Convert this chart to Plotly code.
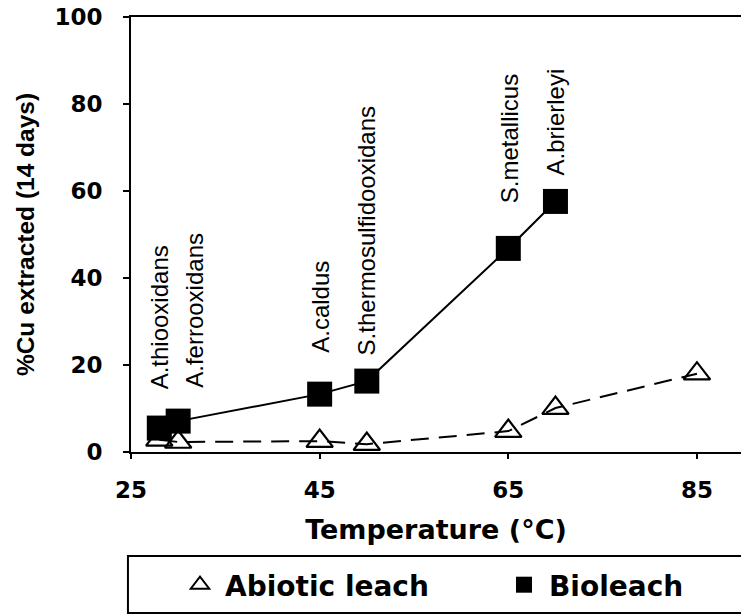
import plotly.graph_objects as go

# ---- data ----
temp_bio = [28, 30, 45, 50, 65, 70]
cu_bio = [5.5, 7.1, 13.3, 16.3, 46.8, 57.6]
species = ["A.thiooxidans", "A.ferrooxidans", "A.caldus",
           "S.thermosulfidooxidans", "S.metallicus", "A.brierleyi"]

temp_abiotic = [28, 30, 45, 50, 65, 70, 85]
cu_abiotic = [2.8, 2.3, 2.5, 1.8, 4.8, 10.1, 18.0]

x_ticks = [25, 45, 65, 85]
y_ticks = [0, 20, 40, 60, 80, 100]

# label offsets (px) relative to their data point
label_dx = [0, 16, 0, 0, 2, 0]
label_dy = [37, 31, 39, 24, 43, 24]

HFONT = "DejaVu Sans"
VFONT = "Liberation Sans"

fig = go.Figure()

fig.add_trace(go.Scatter(
    x=temp_abiotic, y=cu_abiotic, mode="lines+markers",
    line=dict(color="black", width=2, dash="18px,10px"),
    marker=dict(symbol="triangle-up-open", size=23, color="black",
                line=dict(color="black", width=2.2)),
    showlegend=False))

fig.add_trace(go.Scatter(
    x=temp_bio, y=cu_bio, mode="lines+markers",
    line=dict(color="black", width=2),
    marker=dict(symbol="square", size=25, color="black"),
    showlegend=False))

# legend-only entries (markers only), one legend each
fig.add_trace(go.Scatter(
    x=[None], y=[None], mode="markers", name="Abiotic leach", legend="legend",
    marker=dict(symbol="triangle-up-open", size=20, color="black",
                line=dict(color="black", width=2))))
fig.add_trace(go.Scatter(
    x=[None], y=[None], mode="markers", name="Bioleach", legend="legend2",
    marker=dict(symbol="square", size=20, color="black")))

for name, tx, cy, dx, dy in zip(species, temp_bio, cu_bio, label_dx, label_dy):
    fig.add_annotation(
        x=tx, y=cy, xref="x", yref="y", text=name, textangle=-90,
        showarrow=False, xanchor="center", yanchor="bottom",
        xshift=dx, yshift=dy,
        font=dict(family=VFONT, size=24, color="black"))

PLOT_H = 615 - 17 - 163
def py(p):
    return (452 - p) / PLOT_H

# legend frame
fig.add_shape(type="rect", xref="paper", yref="paper",
              x0=-0.005, x1=1.05, y0=py(613), y1=py(556),
              line=dict(color="black", width=2), fillcolor="rgba(0,0,0,0)")

leg_common = dict(orientation="h", xanchor="left", yanchor="middle",
                  y=py(585),
                  font=dict(family=HFONT, size=28, color="black", weight="bold"),
                  bgcolor="rgba(0,0,0,0)", borderwidth=0, itemwidth=40)

fig.update_layout(
    template="none",
    width=741, height=615,
    margin=dict(l=131, r=0, t=17, b=163, pad=0),
    paper_bgcolor="white", plot_bgcolor="white",
    showlegend=True,
    legend=dict(x=(175 - 131) / 610, **leg_common),
    legend2=dict(x=(499 - 131) / 610, **leg_common),
    xaxis=dict(
        range=[25, 89.67], tickvals=x_ticks, ticktext=[str(v) for v in x_ticks],
        showgrid=False, zeroline=False, automargin=False,
        showline=True, linecolor="black", linewidth=2, mirror=True,
        ticks="outside", ticklen=5, tickcolor="black", tickwidth=1.5,
        ticklabelstandoff=11,
        tickfont=dict(family=HFONT, size=23, color="black", weight="bold"),
        title=dict(text="Temperature (°C)", standoff=19,
                   font=dict(family=HFONT, size=27, color="black", weight="bold")),
    ),
    yaxis=dict(
        range=[0, 100], tickvals=y_ticks, ticktext=[str(v) for v in y_ticks],
        showgrid=False, zeroline=False, automargin=False,
        showline=True, linecolor="black", linewidth=2, mirror=False,
        ticks="outside", ticklen=6, tickcolor="black", tickwidth=1.5,
        ticklabelstandoff=16,
        tickfont=dict(family=HFONT, size=23, color="black", weight="bold"),
        title=dict(text="%Cu extracted (14 days)", standoff=13,
                   font=dict(family=VFONT, size=24.5, color="black", weight="bold")),
    ),
)

fig.write_html("out.html")
